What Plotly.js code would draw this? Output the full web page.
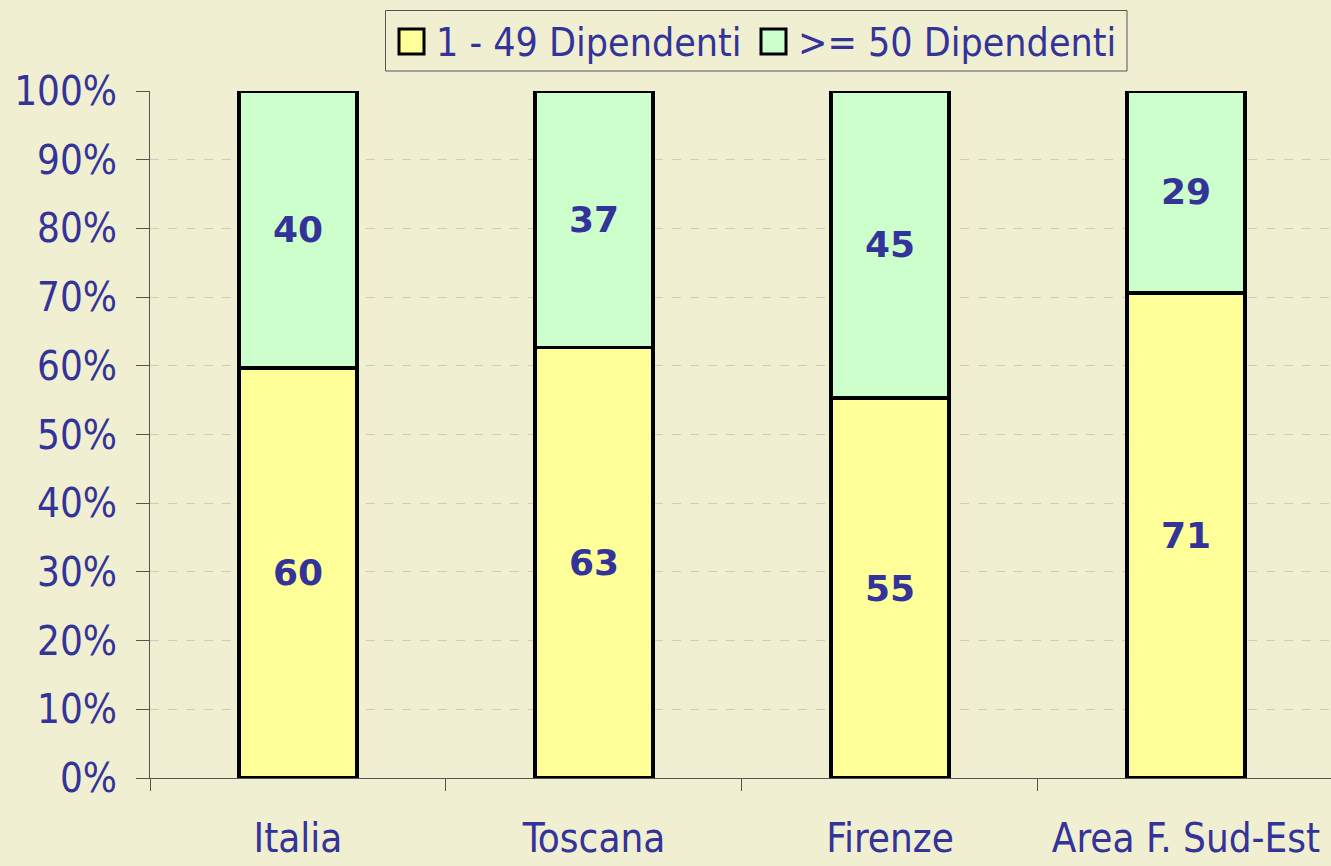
<!DOCTYPE html>
<html><head><meta charset="utf-8">
<script src="https://cdn.plot.ly/plotly-3.0.1.min.js"></script>
<style>html,body{margin:0;padding:0;background:#F0EFD2;}#chart{width:1331px;height:866px;}</style>
</head><body><div id="chart"></div>
<script>
const categories = ['Italia', 'Toscana', 'Firenze', 'Area F. Sud-Est'];
const small = [59.7, 62.7, 55.3, 70.6];
const large = [40.3, 37.3, 44.7, 29.4];
const seriesNames = ['1 - 49 Dipendenti', '>= 50 Dipendenti'];
const seriesColors = ['#FFFF99', '#CCFFCC'];
const yTicks = [0, 10, 20, 30, 40, 50, 60, 70, 80, 90, 100];

const txtColor = '#333399';
const font = 'DejaVu Sans Condensed, DejaVu Sans, sans-serif';

function mk(vals, name, color) {
  return {
    type: 'bar', x: categories, y: vals, name: name,
    marker: {color: color, line: {color: '#000', width: 3.5}},
    text: vals.map(v => String(Math.round(v))),
    textposition: 'inside', insidetextanchor: 'middle', textangle: 0,
    constraintext: 'none',
    textfont: {family: 'DejaVu Sans, sans-serif', size: 36, color: txtColor, weight: 'bold'},
    hoverinfo: 'skip', showlegend: false
  };
}
const data = [mk(small, seriesNames[0], seriesColors[0]), mk(large, seriesNames[1], seriesColors[1])];

// custom legend (layout decoration)
const X = px => (px - 150) / 1181;
const Y = py => (778 - py) / 687;
const shapes = [
  {type: 'rect', xref: 'paper', yref: 'paper', x0: X(385.5), x1: X(1127), y0: Y(71), y1: Y(10.5),
   line: {color: '#555', width: 1}, fillcolor: '#F0EFD2', layer: 'above'},
  {type: 'rect', xref: 'paper', yref: 'paper', x0: X(399), x1: X(424), y0: Y(54), y1: Y(29),
   line: {color: '#000', width: 3}, fillcolor: seriesColors[0], layer: 'above'},
  {type: 'rect', xref: 'paper', yref: 'paper', x0: X(761), x1: X(786), y0: Y(54), y1: Y(29),
   line: {color: '#000', width: 3}, fillcolor: seriesColors[1], layer: 'above'}
];
const annotations = [
  {xref: 'paper', yref: 'paper', x: X(434), y: Y(42), xanchor: 'left', yanchor: 'middle',
   text: seriesNames[0], showarrow: false, font: {family: font, size: 39, color: txtColor}},
  {xref: 'paper', yref: 'paper', x: X(796), y: Y(42), xanchor: 'left', yanchor: 'middle',
   text: seriesNames[1].replace('>', '&gt;'), showarrow: false, font: {family: font, size: 39, color: txtColor}}
];

const layout = {
  width: 1331, height: 866,
  paper_bgcolor: '#F0EFD2', plot_bgcolor: '#F0EFD2',
  barmode: 'stack', bargap: 0.6,
  margin: {l: 150, r: 0, t: 91, b: 88},
  font: {family: font, color: txtColor, size: 39},
  showlegend: false,
  shapes: shapes, annotations: annotations,
  xaxis: {
    range: [-0.5, 3.49], showgrid: false, zeroline: false,
    showline: true, linecolor: '#555', linewidth: 1,
    ticks: 'outside', tickson: 'boundaries', ticklen: 12, tickcolor: '#555', tickwidth: 1,
    tickfont: {family: font, size: 40, color: txtColor},
    ticklabelstandoff: 25, fixedrange: true
  },
  yaxis: {
    range: [0, 100], tickmode: 'array', tickvals: yTicks, ticktext: yTicks.map(v => v + '%'),
    showgrid: true, gridcolor: '#CCCCC0', griddash: 'dash', gridwidth: 1,
    zeroline: false, showline: true, linecolor: '#555', linewidth: 1,
    ticks: 'outside', ticklen: 13, tickcolor: '#555', tickwidth: 1,
    tickfont: {family: font, size: 40, color: txtColor},
    ticklabelstandoff: 11, fixedrange: true
  }
};
Plotly.newPlot('chart', data, layout, {displayModeBar: false, staticPlot: true});
</script></body></html>
